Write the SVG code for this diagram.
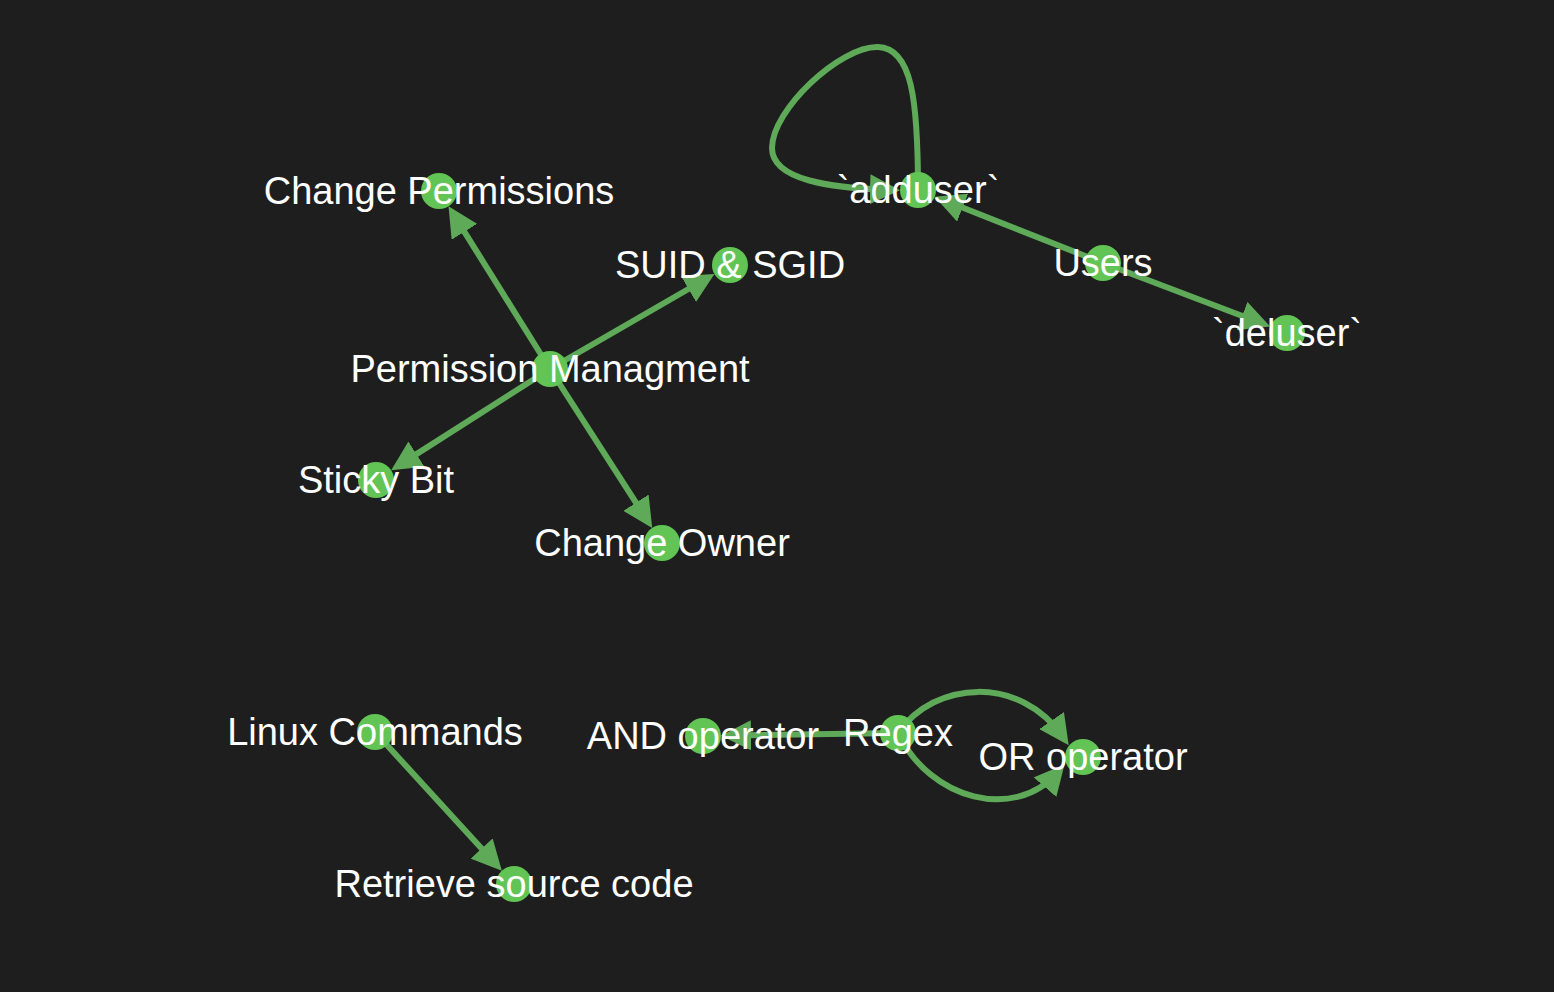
<svg xmlns="http://www.w3.org/2000/svg" width="1554" height="992" viewBox="0 0 1554 992">
<style>
.edge{fill:none;stroke:#5eaa59;stroke-width:6;marker-end:url(#arr)}
.node circle{fill:#62c454}
.node text{fill:#ffffff;font-family:"Liberation Sans",Arial,Helvetica,sans-serif;font-size:38px;text-anchor:middle}
</style>
<defs>
<marker id="arr" markerUnits="userSpaceOnUse" markerWidth="30" markerHeight="30" refX="20" refY="15" orient="auto" viewBox="0 0 30 30">
<path d="M0,0 L30,15 L0,30 z" fill="#5eaa59"/>
</marker>
</defs>
<rect width="1554" height="992" fill="#1e1e1e"/>
<g id="edges">
<path class="edge" d="M550,369 L453.8,214.8"/>
<path class="edge" d="M550,369 L705.8,279.0"/>
<path class="edge" d="M550,369 L399.6,464.9"/>
<path class="edge" d="M550,369 L646.8,519.5"/>
<path class="edge" d="M1103,263 L944.0,200.3"/>
<path class="edge" d="M1103,263 L1260.8,323.0"/>
<path class="edge" d="M918,190 C918,100 912,48 878,47 C840,46 772,110 772,148 C772,180 830,188 890,190"/>
<path class="edge" d="M375,732 L495.1,863.3"/>
<path class="edge" d="M898,733 L731,735.6"/>
<path class="edge" d="M898,733 C935,680 1020,675 1063,737"/>
<path class="edge" d="M898,733 C930,800 1015,822 1058,772"/>
</g>
<g id="n-change-permissions" class="node"><circle cx="439" cy="191" r="18"/><text x="439" y="204">Change Permissions</text></g>
<g id="n-suid-sgid" class="node"><circle cx="730" cy="265" r="18"/><text x="730" y="278">SUID &amp; SGID</text></g>
<g id="n-permission-managment" class="node"><circle cx="550" cy="369" r="18"/><text x="550" y="382">Permission Managment</text></g>
<g id="n-sticky-bit" class="node"><circle cx="376" cy="480" r="18"/><text x="376" y="493">Sticky Bit</text></g>
<g id="n-change-owner" class="node"><circle cx="662" cy="543" r="18"/><text x="662" y="556">Change Owner</text></g>
<g id="n-adduser" class="node"><circle cx="918" cy="190" r="18"/><text x="918" y="203">`adduser`</text></g>
<g id="n-users" class="node"><circle cx="1103" cy="263" r="18"/><text x="1103" y="276">Users</text></g>
<g id="n-deluser" class="node"><circle cx="1287" cy="333" r="18"/><text x="1287" y="346">`deluser`</text></g>
<g id="n-linux-commands" class="node"><circle cx="375" cy="732" r="18"/><text x="375" y="745">Linux Commands</text></g>
<g id="n-retrieve-source-code" class="node"><circle cx="514" cy="884" r="18"/><text x="514" y="897">Retrieve source code</text></g>
<g id="n-and-operator" class="node"><circle cx="703" cy="736" r="18"/><text x="703" y="749">AND operator</text></g>
<g id="n-regex" class="node"><circle cx="898" cy="733" r="18"/><text x="898" y="746">Regex</text></g>
<g id="n-or-operator" class="node"><circle cx="1083" cy="757" r="18"/><text x="1083" y="770">OR operator</text></g>
</svg>
